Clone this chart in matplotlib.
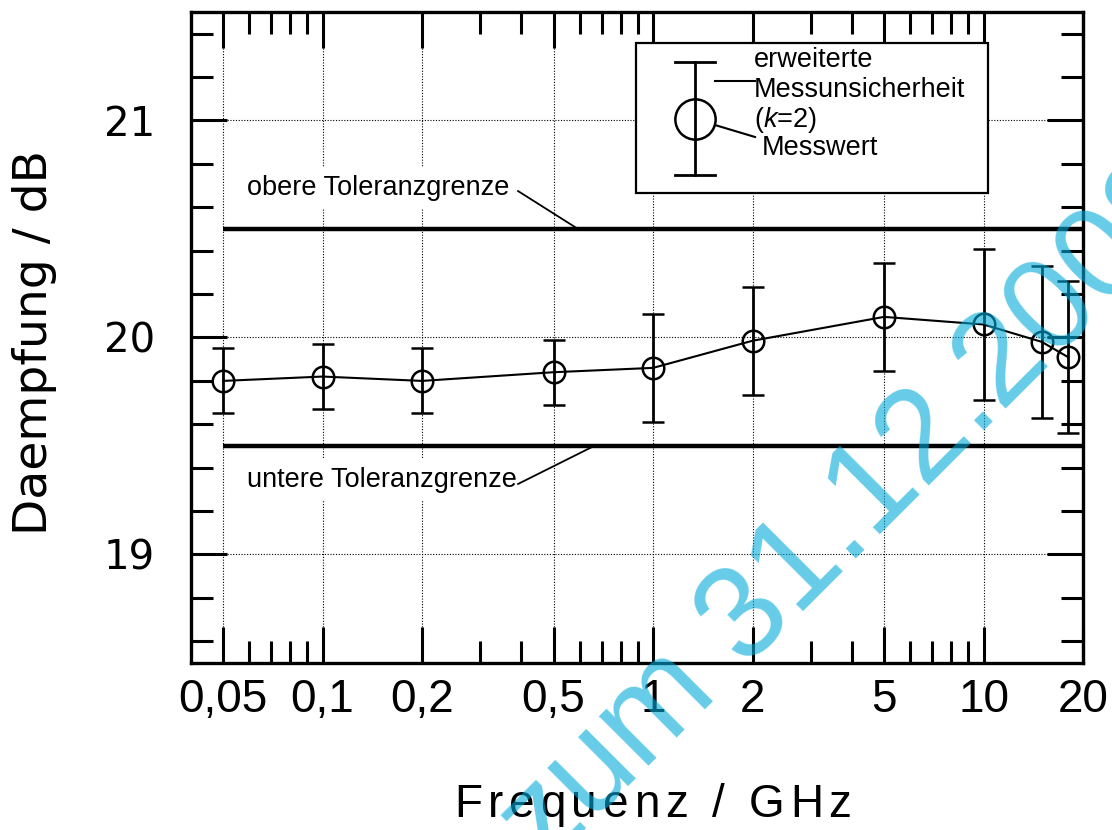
import matplotlib
matplotlib.use("Agg")
import matplotlib.pyplot as plt
from matplotlib.patches import Rectangle
from matplotlib.ticker import FixedLocator, NullFormatter, MultipleLocator

# measured values
freq_ghz = [0.05, 0.1, 0.2, 0.5, 1, 2, 5, 10, 15, 18]
attenuation_db = [19.80, 19.82, 19.80, 19.84, 19.86, 19.985, 20.095, 20.06, 19.98, 19.91]
uncertainty_db = [0.15, 0.15, 0.15, 0.15, 0.25, 0.25, 0.25, 0.35, 0.35, 0.35]

# tolerance limits
tol_freq = [0.05, 20]
upper_tol = 20.5
lower_tol = 19.5

x_major = [0.05, 0.1, 0.2, 0.5, 1, 2, 5, 10, 20]
x_labels = ['0,05', '0,1', '0,2', '0,5', '1', '2', '5', '10', '20']
x_minor = [0.06, 0.07, 0.08, 0.09, 0.3, 0.4, 0.6, 0.7, 0.8, 0.9, 3, 4, 6, 7, 8, 9]
y_major = [19, 20, 21]
y_labels = ['19', '20', '21']

plt.rcParams['font.family'] = ['Liberation Sans', 'DejaVu Sans']
plt.rcParams['mathtext.fontset'] = 'custom'
plt.rcParams['mathtext.rm'] = 'Liberation Sans'
plt.rcParams['mathtext.it'] = 'Liberation Sans:italic'

W, H = 1112, 830
fig = plt.figure(figsize=(W / 100, H / 100), dpi=100)
ax = fig.add_axes([191 / W, 1 - 663 / H, (1083 - 191) / W, (663 - 12) / H])

ax.set_xscale('log')
ax.set_xlim(0.04, 20)
ax.set_ylim(18.5, 21.5)

ax.set_xticks(x_major)
ax.set_xticklabels(x_labels, fontsize=33)
ax.xaxis.set_minor_locator(FixedLocator(x_minor))
ax.xaxis.set_minor_formatter(NullFormatter())
ax.set_yticks(y_major)
ax.set_yticklabels(y_labels, fontsize=29, family='DejaVu Sans')
ax.yaxis.set_minor_locator(MultipleLocator(0.2))

ax.tick_params(which='both', direction='in', top=True, right=True, width=2.2, color='black')
ax.tick_params(which='major', length=26)
ax.tick_params(which='minor', length=16)
ax.tick_params(axis='x', which='major', pad=11)
ax.tick_params(axis='y', which='major', pad=26)
for sp in ax.spines.values():
    sp.set_linewidth(2.4)

ax.grid(True, which='major', linestyle=(0, (1, 1.5)), linewidth=0.8, color='black')
ax.set_axisbelow(True)

# tolerance lines
ax.plot(tol_freq, [upper_tol] * 2, color='black', lw=3.2, solid_capstyle='butt', zorder=2)
ax.plot(tol_freq, [lower_tol] * 2, color='black', lw=3.2, solid_capstyle='butt', zorder=2)

ax.errorbar(freq_ghz, attenuation_db, yerr=uncertainty_db, fmt='-o', color='black',
            lw=1.5, ms=15.5, mfc='none', mew=1.8, elinewidth=2, capsize=8, capthick=2, zorder=4)

# tolerance labels with leader lines
tf = ax.transAxes
lab_kw = dict(fontsize=19.5, va='center', ha='left', transform=tf, zorder=3,
              bbox=dict(boxstyle='square,pad=0.3', fc='white', ec='none'))
ax.text(0.0628, 0.7296, 'obere Toleranzgrenze', **lab_kw)
ax.plot([0.3666, 0.4339], [0.725, 0.6667], color='black', lw=1.3, transform=tf, zorder=3)
ax.text(0.0628, 0.2811, 'untere Toleranzgrenze', **lab_kw)
ax.plot([0.3666, 0.4518], [0.275, 0.3333], color='black', lw=1.3, transform=tf, zorder=3)

# hand drawn legend box
ax.add_patch(Rectangle((0.4989, 0.722), 0.3946, 0.230, transform=tf,
                       fc='white', ec='black', lw=1.6, zorder=5))
lx = 0.565
ax.plot([lx, lx], [0.750, 0.923], color='black', lw=2, transform=tf, zorder=6)
for cy in (0.750, 0.923):
    ax.plot([lx - 0.0224, lx + 0.0224], [cy, cy], color='black', lw=2, transform=tf, zorder=6)
ax.plot([lx], [0.8356], 'o', ms=29, mfc='none', mec='black', mew=1.8, transform=tf, zorder=6)
ax.plot([0.5874, 0.6323], [0.894, 0.894], color='black', lw=1.5, transform=tf, zorder=6)
ax.plot([0.5874, 0.6323], [0.8264, 0.808], color='black', lw=1.5, transform=tf, zorder=6)
leg_kw = dict(fontsize=19.5, va='center', ha='left', transform=tf, zorder=7)
ax.text(0.6312, 0.926, 'erweiterte', **leg_kw)
ax.text(0.6312, 0.880, 'Messunsicherheit', **leg_kw)
ax.text(0.6312, 0.834, '($k$=2)', **leg_kw)
ax.text(0.640, 0.791, 'Messwert', **leg_kw)

fig.text(35 / W, 1 - 342 / H, 'Daempfung / dB', rotation=90, ha='center', va='center',
         fontsize=34, family='DejaVu Sans')

# x label is letter-spaced in the original, place it char by char
renderer = fig.canvas.get_renderer()
xl_kw = dict(fontsize=33, va='center', ha='left')


def text_width(s):
    t = fig.text(0, 0, s, **xl_kw)
    w = t.get_window_extent(renderer).width
    t.remove()
    return w


xlabel = 'Frequenz / GHz'
bar_w = text_width('|')
natural = text_width(xlabel)
track = (397 - natural) / (len(xlabel) - 1)
x0 = 653 - (natural + track * (len(xlabel) - 1)) / 2
for i, ch in enumerate(xlabel):
    if ch == ' ':
        continue
    off = text_width(xlabel[:i] + '|') - bar_w if i else 0
    fig.text((x0 + off + i * track) / W, 1 - 805 / H, ch, **xl_kw)

# watermark
fig.text(0.490, -0.047, 'zum 31.12.2008', rotation=45, rotation_mode='anchor',
         ha='left', va='baseline', fontsize=94, color='#00AAD9', alpha=0.6, zorder=10)

fig.savefig('out.png', dpi=100)
